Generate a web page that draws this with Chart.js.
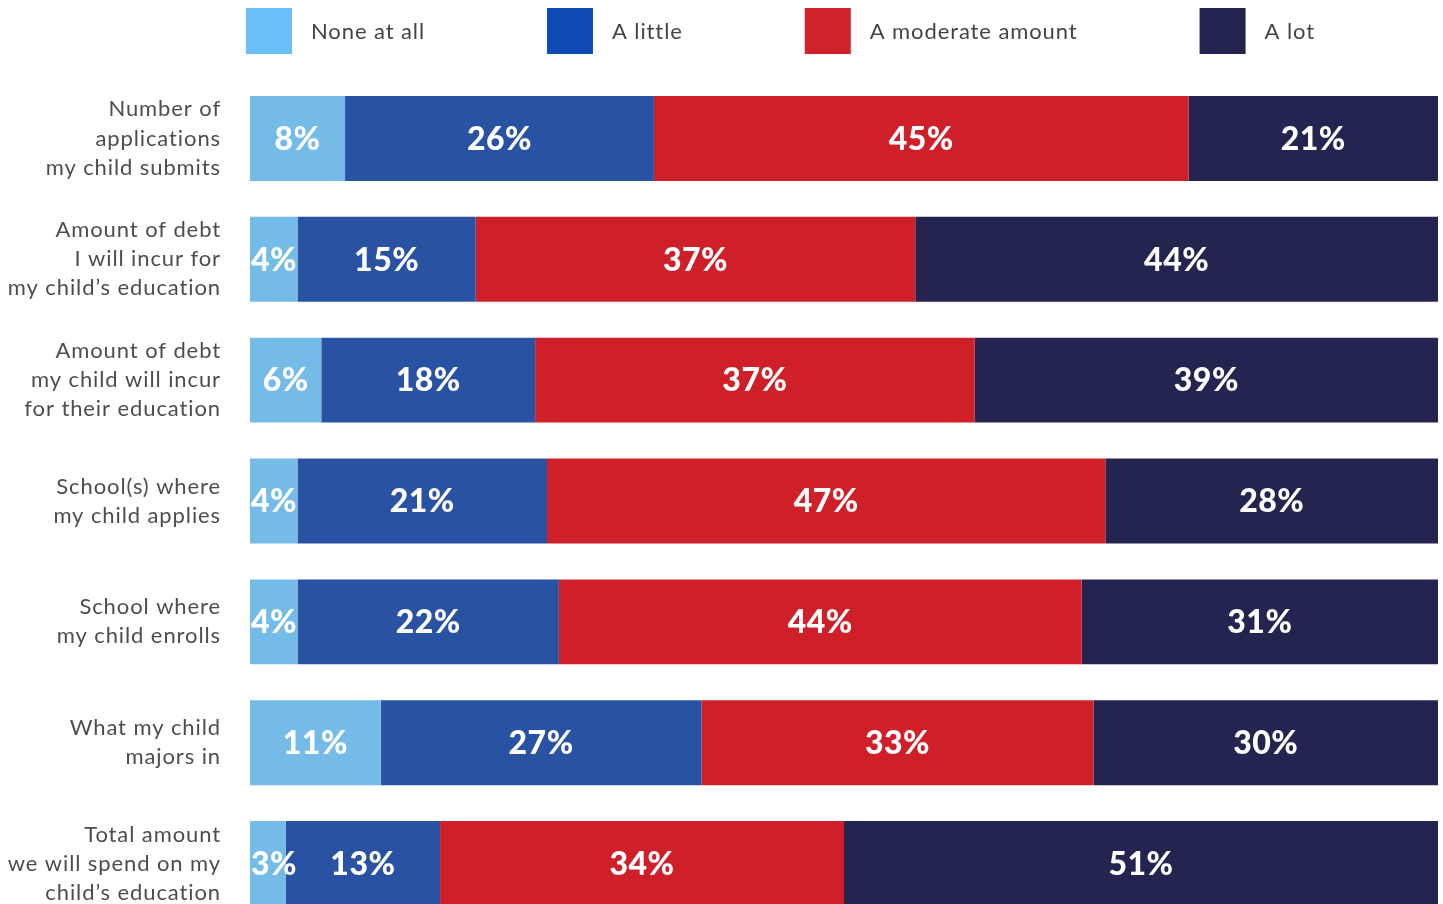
<!DOCTYPE html>
<html>
<head>
<meta charset="utf-8">
<script src="https://cdn.jsdelivr.net/npm/chart.js@4"></script>
<style>
  html, body { margin: 0; padding: 0; background: #fff; overflow: hidden; }
  canvas { display: block; }
</style>
</head>
<body>
<canvas id="chart" width="1443" height="924"></canvas>
<script>
// Categories (multi-line tick labels) and the four answer series, in percent
const categories = [
  ["Number of", "applications", "my child submits"],
  ["Amount of debt", "I will incur for", "my child\u2019s education"],
  ["Amount of debt", "my child will incur", "for their education"],
  ["School(s) where", "my child applies"],
  ["School where", "my child enrolls"],
  ["What my child", "majors in"],
  ["Total amount", "we will spend on my", "child\u2019s education"]
];
const seriesNames = ["None at all", "A little", "A moderate amount", "A lot"];
const noneAtAll = [8, 4, 6, 4, 4, 11, 3];
const aLittle = [26, 15, 18, 21, 22, 27, 13];
const moderateAmount = [45, 37, 37, 47, 44, 33, 34];
const aLot = [21, 44, 39, 28, 31, 30, 51];

const barColors = ["#75bbe8", "#2a52a2", "#cf202a", "#242450"];
const legendColors = ["#6bbff7", "#104bb5", "#cf222b", "#232350"];

const FONT = "Lato, 'Open Sans', sans-serif";
const TEXT_SPACING = "0.9px";

// Slightly wider tracking for the regular-weight text
const tracking = {
  id: "tracking",
  beforeDraw(chart) {
    chart.ctx.letterSpacing = TEXT_SPACING;
  },
  afterDraw(chart) {
    chart.ctx.letterSpacing = "0px";
  }
};

// Legend drawn by hand so the items can sit far apart on one row
const legendRow = {
  id: "legendRow",
  afterDraw(chart) {
    const ctx = chart.ctx;
    const box = 46, gapText = 19, gapItem = 122;
    let x = chart.chartArea.left - 4;
    const y = 8;
    ctx.save();
    ctx.letterSpacing = TEXT_SPACING;
    ctx.font = "400 22px " + FONT;
    ctx.textBaseline = "middle";
    ctx.textAlign = "left";
    seriesNames.forEach((name, i) => {
      ctx.fillStyle = legendColors[i];
      ctx.fillRect(x, y, box, box);
      ctx.fillStyle = "#444444";
      ctx.fillText(name, x + box + gapText, y + box / 2 + 1);
      x += box + gapText + ctx.measureText(name).width + gapItem;
    });
    ctx.restore();
  }
};

// White percentage labels centred in each segment (kept inside the left edge)
const segmentLabels = {
  id: "segmentLabels",
  afterDatasetsDraw(chart) {
    const ctx = chart.ctx;
    const area = chart.chartArea;
    ctx.save();
    ctx.letterSpacing = "0.5px";
    ctx.font = "900 32px " + FONT;
    ctx.fillStyle = "#ffffff";
    ctx.textAlign = "center";
    ctx.textBaseline = "middle";
    chart.data.datasets.forEach((ds, di) => {
      const meta = chart.getDatasetMeta(di);
      meta.data.forEach((bar, i) => {
        const text = ds.data[i] + "%";
        const half = ctx.measureText(text).width / 2;
        const left = Math.max(bar.base, area.left);
        const right = Math.min(bar.x, area.right);
        const cx = Math.max((left + right) / 2, area.left + half + 1);
        ctx.fillText(text, cx, bar.y + 1);
      });
    });
    ctx.restore();
  }
};

const seriesData = [noneAtAll, aLittle, moderateAmount, aLot];

new Chart(document.getElementById("chart"), {
  type: "bar",
  data: {
    labels: categories,
    datasets: seriesNames.map((name, i) => ({
      label: name,
      data: seriesData[i],
      backgroundColor: barColors[i],
      borderWidth: 0,
      categoryPercentage: 1,
      barPercentage: 0.703
    }))
  },
  options: {
    indexAxis: "y",
    responsive: false,
    animation: false,
    devicePixelRatio: 1,
    layout: {
      padding: { top: 78, right: 5, bottom: 0, left: 0 }
    },
    scales: {
      x: {
        stacked: true,
        display: false,
        min: 0,
        max: 100
      },
      y: {
        stacked: true,
        grid: { display: false, drawTicks: false },
        border: { display: false },
        ticks: {
          padding: 29,
          color: "#4d4d4d",
          font: { family: FONT, size: 22, weight: "400", lineHeight: 1.32 }
        },
        afterFit(scale) {
          scale.width = 250;
          scale.paddingTop = 0;
          scale.paddingBottom = 0;
        }
      }
    },
    plugins: {
      legend: { display: false },
      tooltip: { enabled: false }
    }
  },
  plugins: [tracking, legendRow, segmentLabels]
});
</script>
</body>
</html>
